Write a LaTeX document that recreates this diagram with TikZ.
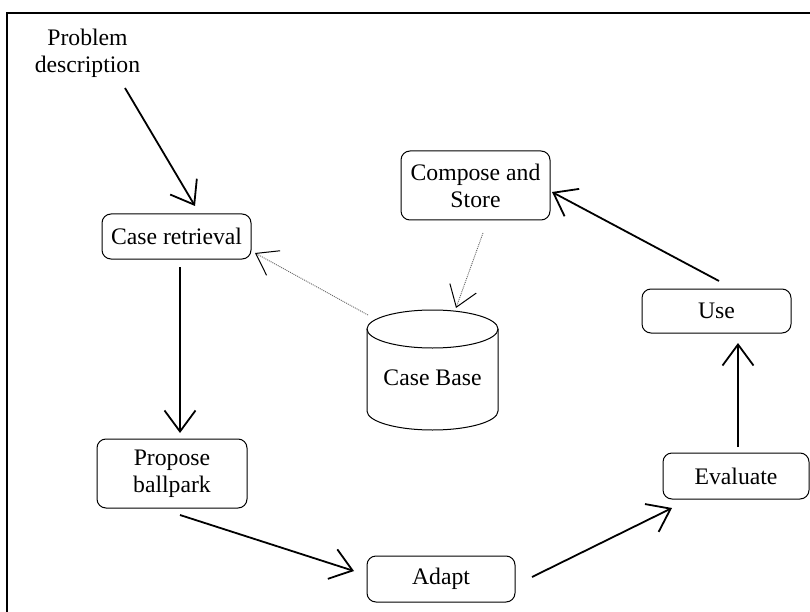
\documentclass[tikz,border=0pt]{standalone}
\usepackage{fontspec}
\setmainfont{Liberation Serif}
\usetikzlibrary{arrows.meta,calc}
\tikzset{
  box/.style={draw, line width=1pt, rounded corners=9pt, inner sep=0pt, align=center},
  lbl/.style={inner sep=0pt, align=center},
  flow/.style={line width=1.8pt, -{Straight Barb[length=21pt,width=31pt]}},
  dat/.style={line width=0.9pt, draw=black!60, dash pattern=on 1pt off 1pt,
    -{Straight Barb[length=20pt,width=28pt,color=black,line width=1pt]}},
}
\begin{document}
\begin{tikzpicture}[x=1pt,y=-1pt,font=\fontsize{23.7}{27}\selectfont]
\useasboundingbox (0,0) rectangle (810,612);
% frame (only top and left edges fall inside the picture)
\draw[line width=2.6pt] (7,614) -- (7,13) -- (812,13);

\node[lbl] (prob) at (87.5,53) {Problem\\description};
\node[box, minimum width=149pt, minimum height=45pt] (retr) at (176.5,236.5) {Case retrieval};
\node[box, minimum width=149pt, minimum height=69pt] (comp) at (475.5,185.5) {Compose and\\Store};
\node[box, minimum width=150pt, minimum height=69pt] (prop) at (172,473.5) {Propose\\ballpark};
\node[box, minimum width=148pt, minimum height=46pt] (adapt) at (441,579) {Adapt};
\node[box, minimum width=146pt, minimum height=46pt] (eval) at (736,476) {Evaluate};
\node[box, minimum width=149pt, minimum height=44pt] (use) at (716.5,311) {Use};

% case base cylinder
\node[lbl] (cb) at (432.5,378) {Case Base};
\coordinate (cbt) at ($(cb)+(0,-49)$);
\coordinate (cbb) at ($(cb)+(0,33)$);
\draw[line width=1pt] (cbt) ellipse [x radius=65.5, y radius=19];
\draw[line width=1pt] ($(cbt)+(-65.5,0)$) -- ($(cbb)+(-65.5,0)$)
  arc[start angle=180, end angle=0, x radius=65.5, y radius=19]
  -- ($(cbt)+(65.5,0)$);

% connectors
\draw[flow] ($(prob.center)+(37.5,35)$) -- ($(retr.center)+(18.5,-30.5)$);
\draw[flow] ($(retr.center)+(3.5,30.5)$) -- ($(prop.center)+(8,-40.5)$);
\draw[flow] ($(prop.center)+(8,41.5)$) -- ($(adapt.center)+(-87,-8)$);
\draw[flow] ($(adapt.center)+(91,-2)$) -- ($(eval.center)+(-64,32)$);
\draw[flow] ($(eval.center)+(2,-29)$) -- ($(use.center)+(21.5,32)$);
\draw[flow] ($(use.center)+(2.5,-30)$) -- ($(comp.center)+(76.5,6.5)$);
\draw[dat] ($(cb.center)+(-64.5,-63)$) -- ($(retr.center)+(78.5,16.5)$);
\draw[dat] ($(comp.center)+(7.5,47.5)$) -- ($(cb.center)+(23.5,-70)$);
\end{tikzpicture}
\end{document}
